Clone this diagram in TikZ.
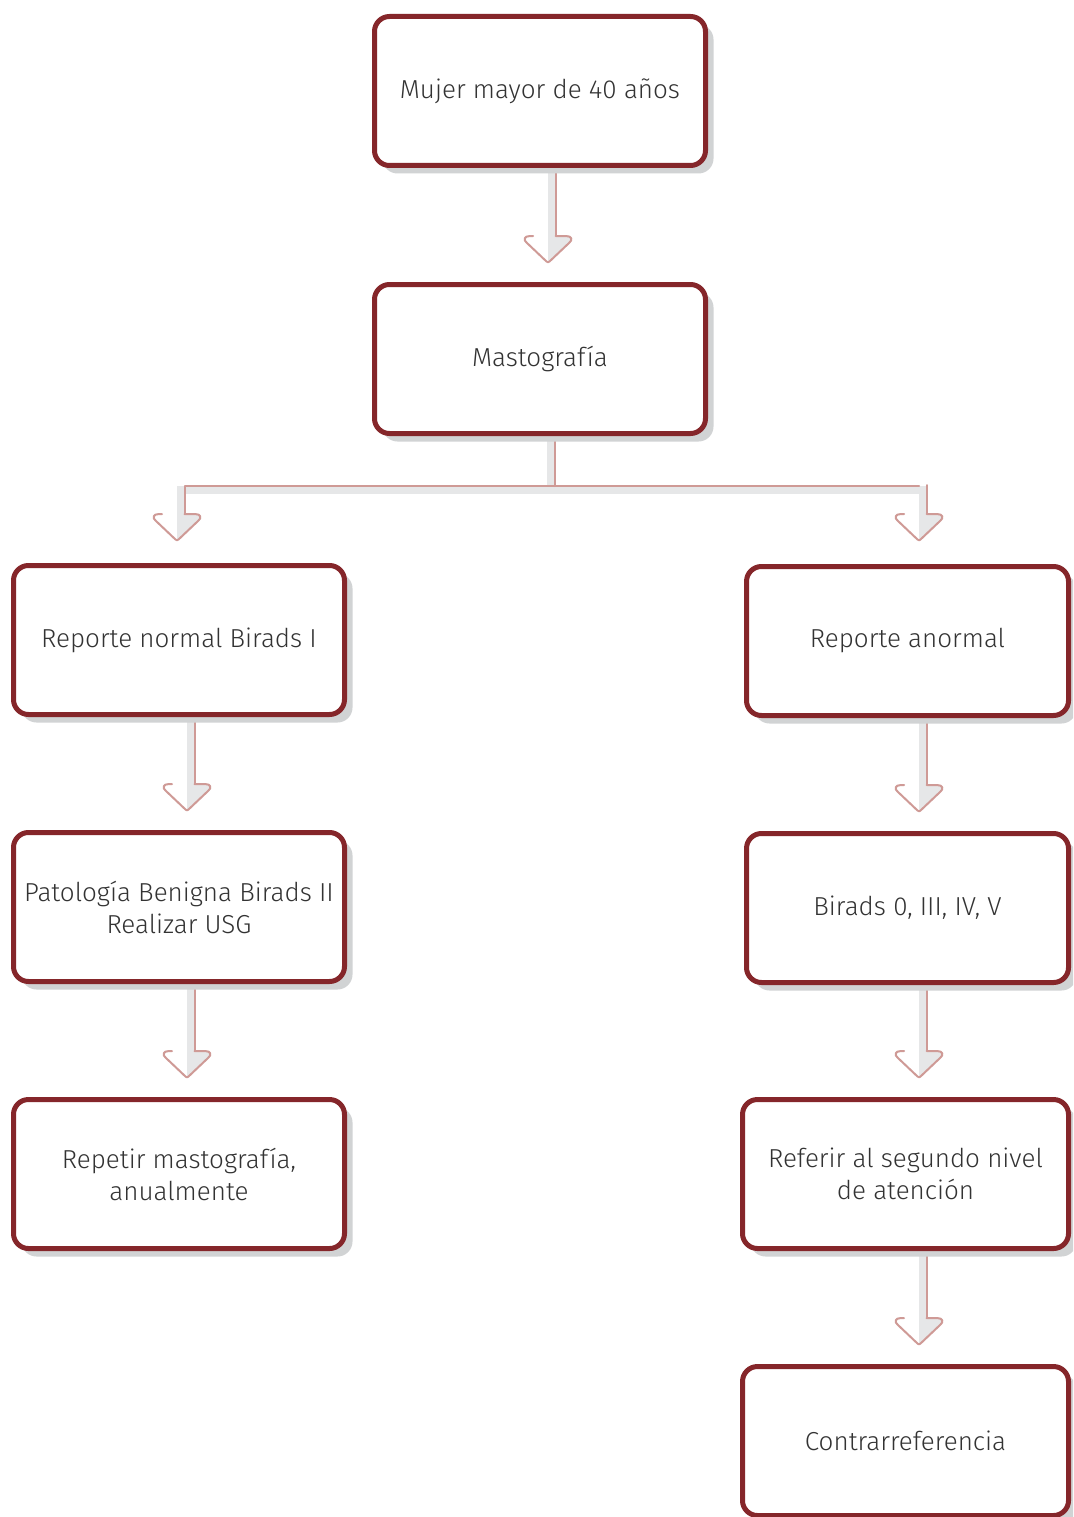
\documentclass[tikz,border=0pt]{standalone}
\usepackage{fontspec}
\setmainfont{Fira Sans}[UprightFont=* Light]
\usetikzlibrary{calc,shadows}
\definecolor{boxred}{HTML}{85262A}
\definecolor{shadowgray}{HTML}{D1D3D4}
\definecolor{arrgray}{HTML}{E6E7E8}
\definecolor{arrpink}{HTML}{CF9A96}
\definecolor{txt}{HTML}{333333}
\pgfdeclarelayer{bg}
\pgfsetlayers{bg,main}
\tikzset{
  flowbox/.style={draw=boxred, line width=5pt, rounded corners=15pt, fill=white,
    minimum width=331pt, minimum height=149pt, align=center, text=txt,
    font=\fontsize{26}{32}\selectfont, inner sep=0pt,
    drop shadow={shadow xshift=8pt, shadow yshift=-8pt, fill=shadowgray, opacity=1}},
  pinkline/.style={draw=arrpink, line width=2pt, line join=round, line cap=round},
}
\newcommand{\arrhead}[1]{%
  \fill[arrgray] (#1) -- ($(#1)+(18,0)$) .. controls ($(#1)+(24,0)$) and ($(#1)+(25,-4)$) .. ($(#1)+(21,-7)$)
    -- ($(#1)+(0,-26)$) -- cycle;
  \draw[pinkline] ($(#1)+(7.5,0)$) -- ($(#1)+(18,0)$)
    .. controls ($(#1)+(24,0)$) and ($(#1)+(25,-4)$) .. ($(#1)+(21,-7)$)
    -- ($(#1)+(1.5,-25.5)$) .. controls ($(#1)+(0.5,-26.5)$) and ($(#1)+(-0.5,-26.5)$) .. ($(#1)+(-1.5,-25.5)$)
    -- ($(#1)+(-21,-7)$)
    .. controls ($(#1)+(-25,-4)$) and ($(#1)+(-24,0)$) .. ($(#1)+(-18,0)$) -- ($(#1)+(-15,0)$);
}
\newcommand{\flowarr}[3]{%
  \coordinate (fT) at ($(#1.south)+(#3,5)$);
  \coordinate (fY) at ($(#2.north)+(0,46)$);
  \coordinate (fH) at (fT |- fY);
  \fill[arrgray] (fT) rectangle ($(fH)+(8,0)$);
  \draw[pinkline] ($(fT)+(7.5,0)$) -- ($(fH)+(7.5,0)$);
  \arrhead{fH}
}
\begin{document}
\begin{tikzpicture}[x=1pt,y=1pt]
\useasboundingbox (0,0) rectangle (1073,-1517);
\clip (0,0) rectangle (1073,-1517);
% boxes
\node[flowbox] (m1) at (540,-91) {Mujer mayor de 40 años};
\node[flowbox] (m2) at (540,-359) {Mastografía};
\node[flowbox] (n1) at (179,-640) {Reporte normal Birads I};
\node[flowbox] (n2) at (179,-907) {Patología Benigna Birads II\\Realizar USG};
\node[flowbox] (n3) at (179,-1174) {Repetir mastografía,\\anualmente};
\node[flowbox, minimum width=322pt] (a1) at (907.5,-641) {Reporte anormal};
\node[flowbox, minimum width=322pt] (a2) at (907.5,-908) {Birads 0, III, IV, V};
\node[flowbox, minimum width=326pt] (a3) at (905.5,-1174) {Referir al segundo nivel\\de atención};
\node[flowbox, minimum width=326pt] (a4) at (905.5,-1441) {Contrarreferencia};
% connectors
\begin{pgfonlayer}{bg}
\fill[white] (0,0) rectangle (1073,-1517);
\flowarr{m1}{m2}{8}
\flowarr{n1}{n2}{8}
\flowarr{n2}{n3}{8}
\flowarr{a1}{a2}{11.5}
\flowarr{a2}{a3}{11.5}
\flowarr{a3}{a4}{13.5}
% split from m2 to n1 and a1
\coordinate (sT) at ($(m2.south)+(7,5)$);
\coordinate (sJy) at ($(n1.north)+(0,77)$);
\coordinate (sJ) at (sT |- sJy);
\coordinate (sL) at ($(n1.north)+(-2,77)$);
\coordinate (sRx) at ($(a1.north)+(11.5,0)$);
\coordinate (sR) at (sRx |- sJ);
\coordinate (sLH) at ($(n1.north)+(-2,49)$);
\coordinate (sRH) at (sRx |- sLH);
\fill[arrgray] (sT) rectangle ($(sJ)+(8,-8)$);
\fill[arrgray] (sL) rectangle ($(sR)+(8,-8)$);
\fill[arrgray] (sL) rectangle ($(sLH)+(8,0)$);
\fill[arrgray] (sR) rectangle ($(sRH)+(8,0)$);
\draw[pinkline] ($(sT)+(7.5,0)$) -- ($(sJ)+(7.5,0)$);
\draw[pinkline] ($(sLH)+(7.5,0)$) |- (sR);
\draw[pinkline] ($(sR)+(7.5,1)$) -- ($(sRH)+(7.5,0)$);
\arrhead{sLH}
\arrhead{sRH}
\end{pgfonlayer}
\end{tikzpicture}
\end{document}
